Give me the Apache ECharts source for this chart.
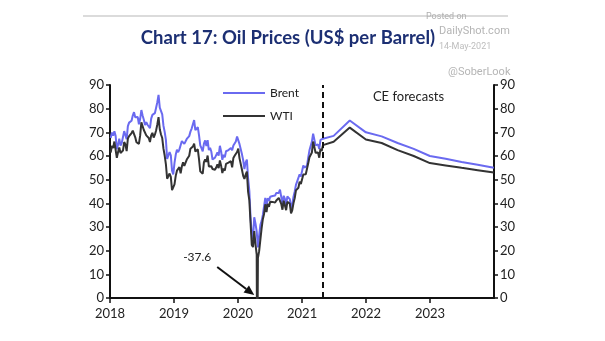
<!DOCTYPE html>
<html>
<head>
<meta charset="utf-8">
<script src="https://cdn.jsdelivr.net/npm/echarts@6/dist/echarts.min.js"></script>
<style>
html,body{margin:0;padding:0;background:#fff;}
#c{width:605px;height:341px;}
</style>
</head>
<body>
<div id="c"></div>
<script>
// ---- data (weekly Friday closes, US$ per barrel) ----
const histStart = '2018-01-05';
const brentHist = [
 67.6,69.9,68.6,70.5, 68.6,62.8,64.8,67.3, 64.4,65.5,66.2,70.5,70.3, 67.1,72.6,74.1,74.6,
 74.9,77.1,78.5,76.4, 76.8,76.5,73.4,75.6,79.4, 77.1,75.3,73.1,74.3, 73.2,72.8,71.8,75.8,77.4,
 76.8,78.1,78.8,82.7, 85.8,80.4,79.8,77.6, 72.8,70.2,66.8,58.8,58.7, 61.7,60.3,53.8,52.2,
 57.1,60.5,62.7,61.6, 62.8,62.1,66.3,67.1, 65.1,65.7,67.2,67.0,68.4, 70.3,71.6,71.9,75.2,
 70.9,70.6,72.2,68.7,64.5, 63.3,62.0,65.2,66.6, 64.2,66.7,62.5,63.5, 61.9,58.5,58.6,59.3,60.4,
 61.5,60.2,64.3,61.9, 58.4,60.5,59.4,62.0, 61.7,62.5,63.3,63.4,62.4, 64.4,65.2,66.1,68.2,
 68.9,65.0,64.9,60.7,58.2, 54.5,57.3,58.5,50.5, 45.3,33.9,27.0,24.9, 34.1,31.5,28.1,21.4,
 26.4,30.9,32.5,35.1,35.3, 42.3,38.7,42.2,41.0, 42.8,43.2,43.1,43.3,43.3, 44.4,44.8,44.4,45.8,
 42.7,39.8,43.2,41.9, 39.3,42.9,42.9,41.8,37.9, 39.5,42.8,45.0,47.8, 49.3,50.0,52.3,51.3,
 51.8,56.0,55.1,55.4,55.9, 59.3,62.4,62.9,66.1, 69.4,69.2,64.5,64.6, 64.9,63.0,66.8,66.1,67.3
];
const wtiHist = [
 61.4,64.3,63.4,66.1, 65.5,59.2,61.7,63.6, 61.3,62.0,62.3,65.9,64.9, 62.1,67.4,68.4,68.1,
 69.7,70.7,71.3,67.9, 65.8,65.7,65.1,68.6,74.2, 73.8,71.0,70.5,68.7, 68.5,67.6,65.9,68.7,69.8,
 67.8,69.0,70.8,73.3, 76.4,71.3,69.1,67.6, 63.1,60.2,56.5,50.4,50.9, 52.6,51.2,45.6,45.3,
 48.0,51.6,53.8,53.7, 55.3,52.7,55.6,57.3, 55.8,56.1,58.5,59.0,60.1, 63.1,63.9,64.0,65.2,
 61.9,61.7,62.8,58.6,53.5, 54.0,52.5,57.4,58.5, 57.5,60.2,55.6,56.2, 55.7,54.5,54.9,54.2,55.1,
 56.5,54.9,58.1,55.9, 52.8,54.7,53.8,56.7, 56.2,57.2,57.7,57.8,55.2, 59.2,60.1,60.4,61.7,
 63.1,59.0,58.5,54.2,51.6, 50.3,52.1,53.4,44.8, 41.3,31.7,22.4,21.5, 28.3,22.8,18.3,16.9,
 19.8,24.7,29.4,33.3,35.5, 39.6,36.3,39.8,38.5, 40.7,40.6,40.6,41.3,40.3, 41.2,42.0,42.3,43.0,
 39.8,37.3,41.1,40.3, 37.1,40.6,40.9,39.9,35.8, 37.1,40.1,42.2,45.5, 46.3,46.6,49.1,48.2,
 48.5,52.2,52.4,52.3,52.2, 56.9,59.5,59.2,61.5, 66.1,65.6,61.4,61.0, 61.5,59.3,63.1,62.1,64.6
];
const wtiLowDate = '2020-04-20';
const wtiLowValue = -37.6;
const forecastDates = ['2021-06-30','2021-09-30','2021-12-31','2022-03-31','2022-06-30','2022-09-30',
                       '2022-12-31','2023-03-31','2023-06-30','2023-09-30','2023-12-31'];
const brentForecast = [68.5,75,70,68.3,65.5,63,60,58.8,57.5,56.3,55];
const wtiForecast   = [66,72,67,65.5,62.5,60,57,56,55,54,53];
const forecastStart = '2021-04-30';
const yearLabels = ['2018','2019','2020','2021','2022','2023'];
const yMin = 0, yMax = 90, yStep = 10;

// ---- build series ----
function weekly(n){
  const out=[]; const t0=Date.parse(histStart+'T00:00:00Z');
  for(let i=0;i<n;i++){ out.push(new Date(t0+i*7*864e5).toISOString().slice(0,10)); }
  return out;
}
const histDates = weekly(brentHist.length);
const brentData = histDates.map((d,i)=>[d,brentHist[i]])
  .concat(forecastDates.map((d,i)=>[d,brentForecast[i]]));
const wtiData = histDates.map((d,i)=>[d,wtiHist[i]]).concat([[wtiLowDate,wtiLowValue]])
  .sort((a,b)=>Date.parse(a[0])-Date.parse(b[0]))
  .concat(forecastDates.map((d,i)=>[d,wtiForecast[i]]));

const FONT = 'Lato';
const chart = echarts.init(document.getElementById('c'), null, {renderer:'canvas'});
const yAxisCommon = {
  type:'value', min:yMin, max:yMax, interval:yStep,
  axisLine:{show:true, lineStyle:{color:'#111', width:2}},
  axisTick:{show:true, inside:false, length:4, lineStyle:{color:'#111', width:1.5}},
  splitLine:{show:false},
  axisLabel:{color:'#222', fontFamily:FONT, fontSize:13, margin:6}
};
chart.setOption({
  animation:false,
  grid:{left:110, right:111, top:85, bottom:43},
  xAxis:{
    type:'time', min:'2018-01-01', max:'2024-01-01',
    splitNumber:6,
    minInterval:365*864e5, maxInterval:366*864e5,
    axisLine:{lineStyle:{color:'#111', width:2}},
    axisTick:{show:true, length:5, lineStyle:{color:'#111', width:1.5}},
    splitLine:{show:false},
    minorTick:{show:false},
    axisLabel:{
      color:'#222', fontFamily:FONT, fontSize:13, margin:9,
      showMaxLabel:false,
      formatter:function(v){ const y=String(new Date(v).getFullYear()); return yearLabels.indexOf(y)>=0?y:''; }
    }
  },
  yAxis:[
    Object.assign({position:'left'}, yAxisCommon),
    Object.assign({position:'right'}, yAxisCommon)
  ],
  legend:{
    orient:'vertical', left:218, top:82, itemWidth:42, itemHeight:2, itemGap:11,
    icon:'rect',
    textStyle:{color:'#222', fontFamily:FONT, fontSize:12},
    data:['Brent','WTI']
  },
  series:[
    {name:'Brent', type:'line', data:brentData, showSymbol:false, clip:true,
     lineStyle:{color:'#6a6af0', width:2}, itemStyle:{color:'#6a6af0'}},
    {name:'WTI', type:'line', data:wtiData, showSymbol:false, clip:true,
     lineStyle:{color:'#333333', width:2}, itemStyle:{color:'#333333'},
     markLine:{silent:true, symbol:'none', label:{show:false},
       lineStyle:{color:'#111', width:2, type:[6,4]},
       data:[{xAxis:forecastStart}]}}
  ]
});

// annotations
const lowPx = chart.convertToPixel({gridIndex:0}, [wtiLowDate, yMin]);
const fcPx = chart.convertToPixel({gridIndex:0}, [forecastStart, yMax]);
const rightPx = chart.convertToPixel({gridIndex:0}, ['2024-01-01', yMax]);
const tip = [lowPx[0]-3, lowPx[1]-3];
const tail = [tip[0]-37, tip[1]-28];
const ang = Math.atan2(tip[1]-tail[1], tip[0]-tail[0]);
const hl = 10, hw = 4.5;
const base = [tip[0]-hl*Math.cos(ang), tip[1]-hl*Math.sin(ang)];
const head = [tip, [base[0]+hw*Math.sin(ang), base[1]-hw*Math.cos(ang)], [base[0]-hw*Math.sin(ang), base[1]+hw*Math.cos(ang)]];
chart.setOption({
  graphic:[
    {type:'line', shape:{x1:83,y1:16,x2:508,y2:16}, style:{stroke:'#cfcfcf', lineWidth:1.5}},
    {type:'text', x:288, y:38, style:{text:'Chart 17: Oil Prices (US$ per Barrel)', fill:'#1c2f73',
      font:'bold 18.5px '+FONT, textAlign:'center', textVerticalAlign:'middle'}},
    {type:'text', x:426, y:17, style:{text:'Posted on', fill:'#b0b0b0', font:'9px Roboto', textVerticalAlign:'middle'}},
    {type:'text', x:439, y:31, style:{text:'DailyShot.com', fill:'#b5b5b5', font:'11px Roboto', textVerticalAlign:'middle'}},
    {type:'text', x:439, y:47, style:{text:'14-May-2021', fill:'#bdbdbd', font:'9px Roboto', textVerticalAlign:'middle'}},
    {type:'text', x:448, y:72, style:{text:'@SoberLook', fill:'#b5b5b5', font:'11px Roboto', textVerticalAlign:'middle'}},
    {type:'text', x:(fcPx[0]+rightPx[0])/2, y:97, style:{text:'CE forecasts', fill:'#222', font:'13px '+FONT,
      textAlign:'center', textVerticalAlign:'middle'}},
    {type:'text', x:tail[0]-20, y:tail[1]-10, style:{text:'-37.6', fill:'#222', font:'12px '+FONT,
      textAlign:'center', textVerticalAlign:'middle'}},
    {type:'line', shape:{x1:tail[0],y1:tail[1],x2:base[0],y2:base[1]}, style:{stroke:'#111', lineWidth:2}},
    {type:'polygon', shape:{points:head}, style:{fill:'#111'}}
  ]
});
</script>
</body>
</html>
